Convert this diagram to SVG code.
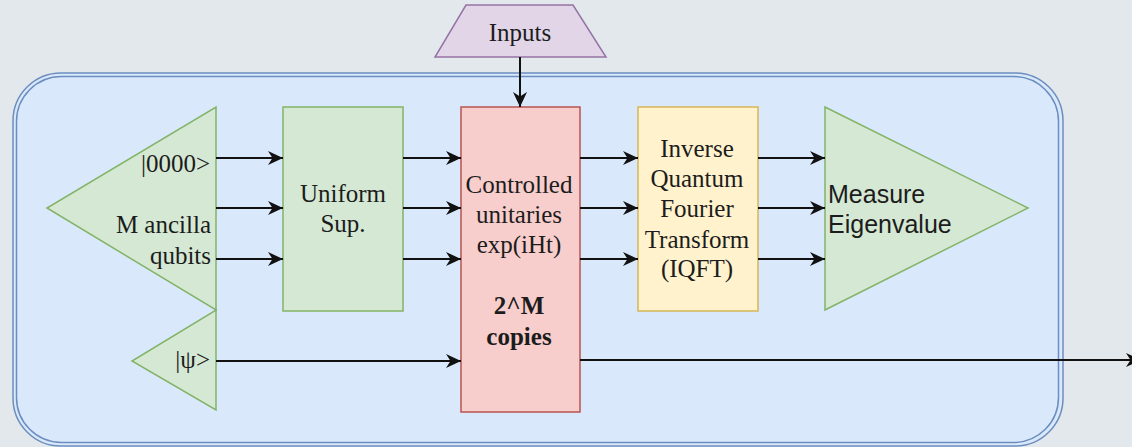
<svg xmlns="http://www.w3.org/2000/svg" width="1132" height="447" viewBox="0 0 1132 447">
  <style>
    .serif { font-family: "Liberation Serif", "Times New Roman", serif; font-size: 25px; fill: #1c1c1c; }
    .sans { font-family: "Liberation Sans", Arial, sans-serif; font-size: 25px; fill: #1c1c1c; }
    .mid { text-anchor: middle; }
    .end { text-anchor: end; }
    .bold { font-weight: bold; }
    .green { fill: #d5e8d4; stroke: #82b366; stroke-width: 1.5; }
    .edge { fill: none; stroke: #111; stroke-width: 2; marker-end: url(#arrow); }
  </style>
  <defs>
    <marker id="arrow" markerUnits="userSpaceOnUse" markerWidth="17" markerHeight="16" refX="15" refY="8" orient="auto">
      <path d="M0,1 L15,8 L0,15 L4.5,8 Z" fill="#111"/>
    </marker>
  </defs>

  <!-- page background -->
  <rect x="0" y="0" width="1132" height="447" fill="#e2e8eb"/>

  <!-- container with double border -->
  <g id="container">
    <rect x="13" y="73" width="1050" height="373" rx="48" ry="48" fill="#dae8fc" stroke="#6c8ebf" stroke-width="1.5"/>
    <rect x="16.5" y="76.5" width="1042" height="366" rx="45" ry="45" fill="none" stroke="#6c8ebf" stroke-width="1.5"/>
  </g>

  <g id="inputs">
    <polygon points="466,5 573,5 606,57 435,57" fill="#e1d5e7" stroke="#9673a6" stroke-width="1.5"/>
    <text class="serif mid" x="520" y="41">Inputs</text>
  </g>

  <g id="ancilla">
    <polygon class="green" points="216,107 216,310 47,208"/>
    <text class="serif end" x="210" y="172">|0000&gt;</text>
    <text class="serif end" x="211" y="233">M ancilla</text>
    <text class="serif end" x="211" y="264">qubits</text>
  </g>

  <g id="psi">
    <polygon class="green" points="216,310 216,410 132,361"/>
    <text class="serif end" x="210" y="368">|ψ&gt;</text>
  </g>

  <g id="uniform">
    <rect class="green" x="283" y="107" width="120" height="204"/>
    <text class="serif mid" x="343" y="202">Uniform</text>
    <text class="serif mid" x="343" y="232">Sup.</text>
  </g>

  <g id="controlled">
    <rect x="461" y="107" width="119" height="305" fill="#f8cecc" stroke="#b85450" stroke-width="1.5"/>
    <text class="serif mid" x="519" y="193">Controlled</text>
    <text class="serif mid" x="519" y="223">unitaries</text>
    <text class="serif mid" x="519" y="253">exp(iHt)</text>
    <text class="serif mid bold" x="519" y="314">2^M</text>
    <text class="serif mid bold" x="519" y="345">copies</text>
  </g>

  <g id="iqft">
    <rect x="638" y="107" width="120" height="204" fill="#fff2cc" stroke="#d6b656" stroke-width="1.5"/>
    <text class="serif mid" x="697" y="157">Inverse</text>
    <text class="serif mid" x="697" y="187">Quantum</text>
    <text class="serif mid" x="697" y="217">Fourier</text>
    <text class="serif mid" x="697" y="248">Transform</text>
    <text class="serif mid" x="697" y="277">(IQFT)</text>
  </g>

  <g id="measure">
    <polygon class="green" points="825,107 825,310 1028,208"/>
    <text class="sans" x="828" y="203">Measure</text>
    <text class="sans" x="828" y="233">Eigenvalue</text>
  </g>

  <g id="connectors">
    <line class="edge" x1="520" y1="57" x2="520" y2="107"/>
    <line class="edge" x1="216" y1="158" x2="283" y2="158"/>
    <line class="edge" x1="216" y1="208" x2="283" y2="208"/>
    <line class="edge" x1="216" y1="259" x2="283" y2="259"/>
    <line class="edge" x1="403" y1="158" x2="461" y2="158"/>
    <line class="edge" x1="403" y1="208" x2="461" y2="208"/>
    <line class="edge" x1="403" y1="259" x2="461" y2="259"/>
    <line class="edge" x1="580" y1="158" x2="638" y2="158"/>
    <line class="edge" x1="580" y1="208" x2="638" y2="208"/>
    <line class="edge" x1="580" y1="259" x2="638" y2="259"/>
    <line class="edge" x1="758" y1="158" x2="825" y2="158"/>
    <line class="edge" x1="758" y1="208" x2="825" y2="208"/>
    <line class="edge" x1="758" y1="259" x2="825" y2="259"/>
    <line class="edge" x1="216" y1="361" x2="461" y2="361"/>
    <line class="edge" x1="580" y1="360" x2="1141" y2="360"/>
  </g>
</svg>
